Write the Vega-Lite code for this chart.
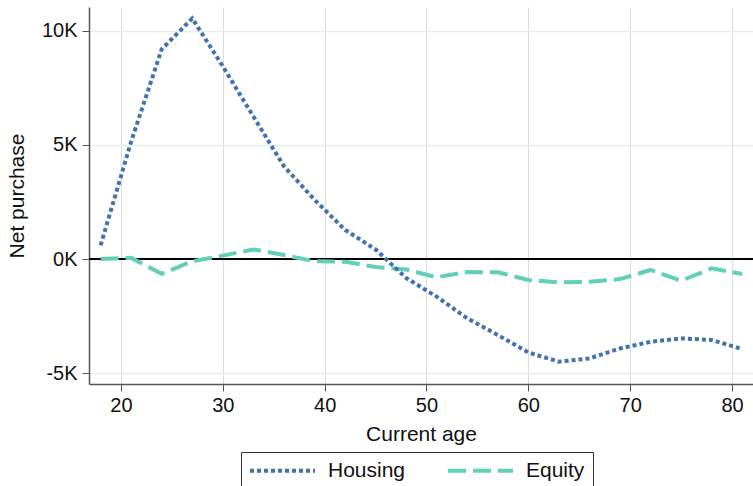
{
  "$schema": "https://vega.github.io/schema/vega-lite/v6.json",
  "autosize": "none",
  "width": 664,
  "height": 377,
  "padding": {"left": 89, "top": 7, "right": 0, "bottom": 102},
  "background": "white",
  "config": {
    "font": "Liberation Sans",
    "view": {"stroke": null},
    "axis": {"labelFont": "Liberation Sans", "titleFont": "Liberation Sans", "labelColor": "#111", "titleColor": "#111", "titleFontWeight": "normal"}
  },
  "data": {
    "values": [
      {"age": 18, "series": "Equity", "value": 0},
      {"age": 21, "series": "Equity", "value": 50},
      {"age": 24, "series": "Equity", "value": -650},
      {"age": 27, "series": "Equity", "value": -100},
      {"age": 30, "series": "Equity", "value": 150},
      {"age": 33, "series": "Equity", "value": 420},
      {"age": 36, "series": "Equity", "value": 180},
      {"age": 39, "series": "Equity", "value": -100},
      {"age": 42, "series": "Equity", "value": -120},
      {"age": 45, "series": "Equity", "value": -350},
      {"age": 48, "series": "Equity", "value": -460},
      {"age": 51, "series": "Equity", "value": -800},
      {"age": 54, "series": "Equity", "value": -570},
      {"age": 57, "series": "Equity", "value": -580},
      {"age": 60, "series": "Equity", "value": -920},
      {"age": 63, "series": "Equity", "value": -1020},
      {"age": 66, "series": "Equity", "value": -1000},
      {"age": 69, "series": "Equity", "value": -880},
      {"age": 72, "series": "Equity", "value": -480},
      {"age": 75, "series": "Equity", "value": -950},
      {"age": 78, "series": "Equity", "value": -410},
      {"age": 81, "series": "Equity", "value": -660},
      {"age": 18, "series": "Housing", "value": 600},
      {"age": 21, "series": "Housing", "value": 5150},
      {"age": 24, "series": "Housing", "value": 9200},
      {"age": 27, "series": "Housing", "value": 10550},
      {"age": 30, "series": "Housing", "value": 8450},
      {"age": 33, "series": "Housing", "value": 6250},
      {"age": 36, "series": "Housing", "value": 4070},
      {"age": 39, "series": "Housing", "value": 2600},
      {"age": 42, "series": "Housing", "value": 1280},
      {"age": 45, "series": "Housing", "value": 420},
      {"age": 48, "series": "Housing", "value": -830},
      {"age": 51, "series": "Housing", "value": -1650},
      {"age": 54, "series": "Housing", "value": -2600},
      {"age": 57, "series": "Housing", "value": -3330},
      {"age": 60, "series": "Housing", "value": -4100},
      {"age": 63, "series": "Housing", "value": -4500},
      {"age": 66, "series": "Housing", "value": -4360},
      {"age": 69, "series": "Housing", "value": -3920},
      {"age": 72, "series": "Housing", "value": -3630},
      {"age": 75, "series": "Housing", "value": -3480},
      {"age": 78, "series": "Housing", "value": -3550},
      {"age": 81, "series": "Housing", "value": -3950}
    ]
  },
  "layer": [
    {
      "data": {"values": [{"y": 0}]},
      "mark": {"type": "rule", "color": "black", "strokeWidth": 2},
      "encoding": {"y": {"field": "y", "type": "quantitative"}}
    },
    {
      "mark": {"type": "line", "strokeWidth": 4, "strokeCap": "butt"},
      "encoding": {
        "x": {
          "field": "age", "type": "quantitative",
          "scale": {"domain": [16.86, 82.06], "nice": false, "zero": false},
          "axis": {
            "title": "Current age", "values": [20, 30, 40, 50, 60, 70, 80],
            "labelFontSize": 20, "titleFontSize": 21, "labelPadding": 4, "titlePadding": 8,
            "tickSize": 7, "tickColor": "#555", "domainColor": "#555", "domainWidth": 1.5,
            "grid": true, "gridColor": "#dcdcdc", "gridWidth": 1
          }
        },
        "y": {
          "field": "value", "type": "quantitative",
          "scale": {"domain": [-5480, 11050], "nice": false, "zero": false},
          "axis": {
            "title": "Net purchase", "values": [-5000, 0, 5000, 10000],
            "labelExpr": "(datum.value / 1000) + 'K'",
            "labelFontSize": 20, "titleFontSize": 21, "labelPadding": 5, "titlePadding": 14,
            "tickSize": 7, "tickColor": "#555", "domainColor": "#555", "domainWidth": 1.5,
            "grid": true, "gridColor": "#e5edf0", "gridWidth": 1.5
          }
        },
        "color": {
          "field": "series", "type": "nominal",
          "scale": {"domain": ["Housing", "Equity"], "range": ["#4272b0", "#62cfb8"]},
          "legend": {
            "title": null, "orient": "none", "legendX": 152, "legendY": 445,
            "direction": "horizontal", "strokeColor": "#333", "padding": 8,
            "symbolType": "M-5,0H5", "symbolSize": 169, "symbolStrokeWidth": 4,
            "symbolOffset": 23,
            "labelFontSize": 21, "labelFont": "Liberation Sans", "labelColor": "#111",
            "labelOffset": 35, "columnPadding": 34
          }
        },
        "strokeDash": {
          "field": "series", "type": "nominal",
          "scale": {"domain": ["Housing", "Equity"], "range": [[4, 3], [18, 7]]},
          "legend": null
        }
      }
    }
  ]
}
